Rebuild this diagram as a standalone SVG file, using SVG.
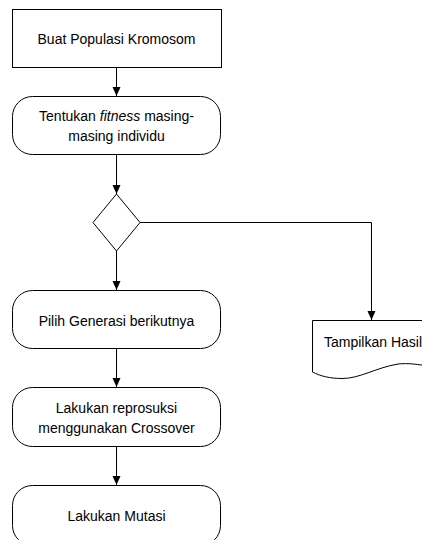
<svg xmlns="http://www.w3.org/2000/svg" width="422" height="540" viewBox="0 0 422 540">
<style>
.s{fill:#fff;stroke:#000;stroke-width:1}
.t{font-family:"Liberation Sans",Arial,sans-serif;font-size:14px;fill:#000;text-anchor:middle}
.c{fill:none;stroke:#000;stroke-width:1}
</style>
<defs>
<marker id="ah" markerWidth="10" markerHeight="10" refX="9" refY="5" orient="auto" markerUnits="userSpaceOnUse">
<path d="M0,1 L9,5 L0,9 Z" fill="#000"/>
</marker>
</defs>
<rect width="422" height="540" fill="#fff"/>
<g id="connectors">
<line class="c" x1="116.5" y1="68" x2="116.5" y2="96" marker-end="url(#ah)"/>
<line class="c" x1="116.5" y1="155" x2="116.5" y2="194" marker-end="url(#ah)"/>
<line class="c" x1="116.5" y1="251" x2="116.5" y2="290" marker-end="url(#ah)"/>
<polyline class="c" points="140,222.5 371.5,222.5 371.5,320" marker-end="url(#ah)"/>
<line class="c" x1="116.5" y1="349" x2="116.5" y2="387" marker-end="url(#ah)"/>
<line class="c" x1="116.5" y1="447" x2="116.5" y2="485" marker-end="url(#ah)"/>
</g>
<g id="n1">
<rect class="s" x="12.5" y="9.5" width="209" height="58"/>
<text class="t" x="116.5" y="44">Buat Populasi Kromosom</text>
</g>
<g id="n2">
<rect class="s" x="12.5" y="96.5" width="208" height="58" rx="20"/>
<text class="t" x="116.5" y="121">Tentukan <tspan font-style="italic">fitness</tspan> masing-</text>
<text class="t" x="116.5" y="141">masing individu</text>
</g>
<g id="n3">
<path class="s" d="M116.5,194 L140,222.5 L116.5,251 L93,222.5 Z"/>
</g>
<g id="n4">
<rect class="s" x="12.5" y="290.5" width="208" height="58" rx="20"/>
<text class="t" x="116.5" y="326">Pilih Generasi berikutnya</text>
</g>
<g id="n5">
<path class="s" d="M312.5,320.5 L432,320.5 L432,367 C418,364 408,363 398,364 C375,368 360,378.5 342,378.5 C330,378.5 320,376 312.5,372 Z"/>
<text class="t" x="373" y="347">Tampilkan Hasil</text>
</g>
<g id="n6">
<rect class="s" x="12.5" y="387.5" width="208" height="59" rx="20"/>
<text class="t" x="116.5" y="413">Lakukan reprosuksi</text>
<text class="t" x="116.5" y="433">menggunakan Crossover</text>
</g>
<g id="n7">
<rect class="s" x="12.5" y="485.5" width="208" height="60" rx="20"/>
<text class="t" x="116.5" y="521">Lakukan Mutasi</text>
</g>
</svg>
